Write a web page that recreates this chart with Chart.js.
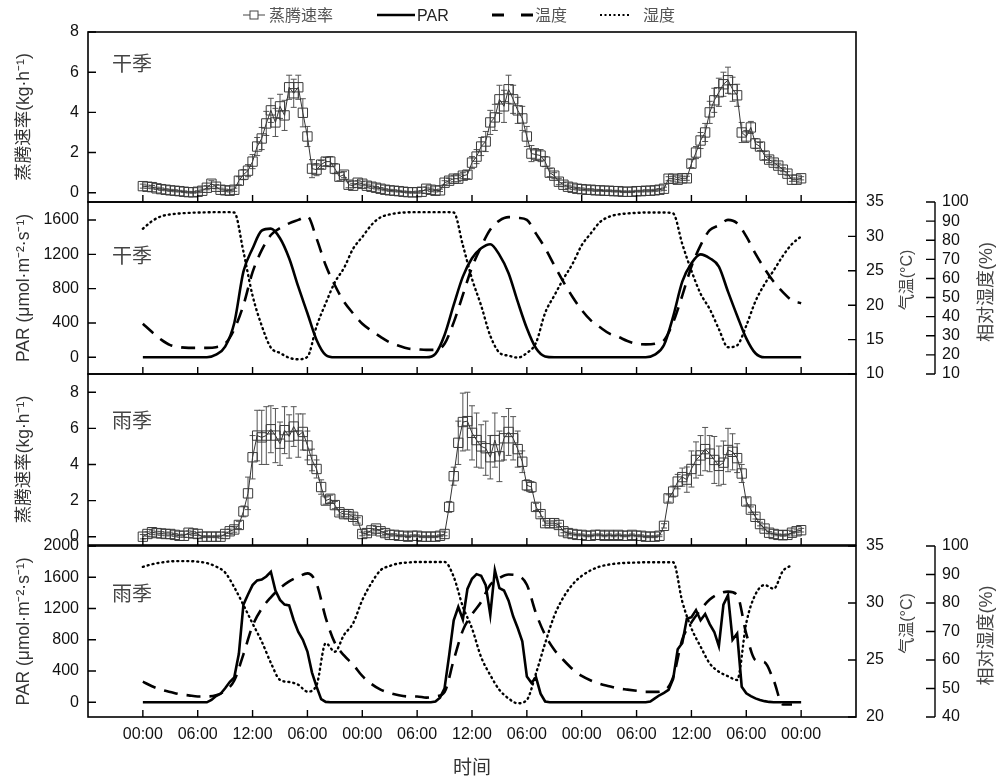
<!DOCTYPE html>
<html>
<head>
<meta charset="utf-8">
<script src="https://cdn.jsdelivr.net/npm/chart.js@4.4.1/dist/chart.umd.min.js"></script>
<style>
    body { margin: 0; background: #fff; }
    #wrap { position: relative; width: 996px; height: 781px; }
    #wrap canvas { position: absolute; left: 0; top: 0; }
    #legend { position: absolute; left: 0; top: 0; }
</style>
</head>
<body>
<div id="wrap">
    <canvas id="p1" width="996" height="781"></canvas>
    <canvas id="p2" width="996" height="781"></canvas>
    <canvas id="p3" width="996" height="781"></canvas>
    <canvas id="p4" width="996" height="781"></canvas>
    <svg id="legend" width="996" height="32">
        <line x1="243" y1="15" x2="265" y2="15" stroke="#444" stroke-width="1"/>
        <rect x="250" y="11" width="8" height="8" fill="#fff" stroke="#444" stroke-width="1"/>
        <text x="269" y="21" font-family="Noto Sans CJK SC" font-size="16" fill="#555">蒸腾速率</text>
        <line x1="377" y1="15" x2="415" y2="15" stroke="#000" stroke-width="2.5"/>
        <text x="417" y="21" font-family="Liberation Sans" font-size="16" fill="#222">PAR</text>
        <line x1="492" y1="15" x2="533" y2="15" stroke="#000" stroke-width="3" stroke-dasharray="12 17"/>
        <text x="535" y="21" font-family="Noto Sans CJK SC" font-size="16" fill="#555">温度</text>
        <line x1="600" y1="15" x2="629" y2="15" stroke="#000" stroke-width="2" stroke-dasharray="2 2.5"/>
        <text x="643" y="21" font-family="Noto Sans CJK SC" font-size="16" fill="#555">湿度</text>
    </svg>
</div>
<script>
// time axis (hours from the first midnight)
var xTickValues = [0, 6, 12, 18, 24, 30, 36, 42, 48, 54, 60, 66, 72];
var xTickLabels = ["00:00", "06:00", "12:00", "06:00", "00:00", "06:00", "12:00",
    "06:00", "00:00", "06:00", "12:00", "06:00", "00:00"];

var hoursHalf = [];
for (var i = 0; i <= 144; i++) hoursHalf.push(i / 2);
var hoursFull = [];
for (var i = 0; i <= 72; i++) hoursFull.push(i);

// 干季 蒸腾速率 (half-hourly) and error
var dryET = [0.33, 0.3, 0.28, 0.22, 0.18, 0.15, 0.12, 0.1, 0.08, 0.05, 0.03, 0.02, 0.05, 0.1, 0.25, 0.45, 0.3, 0.15, 0.12, 0.1,
    0.15, 0.6, 0.9, 1.1, 1.55, 2.3, 2.7, 3.45, 4.1, 3.5, 4.3, 3.85, 5.25, 4.95, 5.25, 3.98, 2.8, 1.2, 1.15, 1.4, 1.55, 1.55, 1.2, 0.8, 0.9, 0.4, 0.35, 0.5,
    0.45, 0.35, 0.3, 0.25, 0.2, 0.15, 0.12, 0.1, 0.08, 0.05, 0.03, 0.02, 0.03, 0.05, 0.2, 0.15, 0.1, 0.12,
    0.5, 0.6, 0.7, 0.7, 0.85, 0.9, 1.5, 1.8, 2.3, 2.55, 3.5, 3.75, 4.65, 4.3, 5.15, 4.65, 4.1, 3.7, 2.8, 1.95, 1.9, 1.85, 1.55, 1.0, 0.85, 0.55, 0.4, 0.3, 0.25, 0.2,
    0.18, 0.15, 0.15, 0.12, 0.12, 0.1, 0.1, 0.08, 0.08, 0.05, 0.05, 0.05, 0.08, 0.08, 0.1, 0.1, 0.12, 0.15, 0.2,
    0.7, 0.7, 0.65, 0.72, 0.72, 1.45, 2.0, 2.6, 3.0, 4.0, 4.6, 5.0, 5.4, 5.6, 5.15, 4.85, 3.0, 2.8, 3.25, 2.45, 2.3, 1.85, 1.65, 1.5, 1.35, 1.15, 0.95, 0.65, 0.65, 0.72];
var dryErr = [0.1, 0.08, 0.08, 0.06, 0.06, 0.05, 0.05, 0.05, 0.04, 0.04, 0.04, 0.04, 0.05, 0.08, 0.1, 0.15, 0.1, 0.08, 0.06, 0.06,
    0.08, 0.2, 0.25, 0.3, 0.35, 0.45, 0.55, 0.6, 0.6, 0.7, 0.6, 0.75, 0.6, 0.7, 0.6, 0.7, 0.5, 0.45, 0.3, 0.2, 0.2, 0.25, 0.25, 0.2, 0.15, 0.15, 0.1, 0.1,
    0.1, 0.08, 0.08, 0.06, 0.06, 0.05, 0.05, 0.05, 0.04, 0.04, 0.04, 0.04, 0.05, 0.06, 0.08, 0.08, 0.06, 0.06,
    0.1, 0.12, 0.15, 0.15, 0.15, 0.2, 0.3, 0.35, 0.45, 0.5, 0.6, 0.65, 0.7, 0.8, 0.7, 0.7, 0.65, 0.6, 0.5, 0.4, 0.3, 0.3, 0.25, 0.2, 0.15, 0.15, 0.1, 0.08, 0.08, 0.06,
    0.06, 0.05, 0.05, 0.05, 0.04, 0.04, 0.04, 0.04, 0.04, 0.04, 0.04, 0.04, 0.04, 0.04, 0.05, 0.05, 0.05, 0.06, 0.08,
    0.1, 0.12, 0.12, 0.1, 0.1, 0.2, 0.3, 0.4, 0.45, 0.55, 0.6, 0.7, 0.6, 0.65, 0.6, 0.55, 0.5, 0.3, 0.3, 0.25, 0.2, 0.2, 0.15, 0.12, 0.12, 0.1, 0.1, 0.08, 0.08, 0.08];

// 干季 PAR, 温度, 湿度 (hourly)
var dryPAR = [0, 0, 0, 0, 0, 0, 0, 0,
    30, 124, 400, 998, 1267, 1476, 1500, 1388, 1154, 823, 513, 202, 27,
    0, 0, 0, 0, 0, 0, 0, 0, 0, 0, 0,
    40, 260, 610, 940, 1154, 1270, 1318, 1193, 980, 648, 338, 105, 10,
    0, 0, 0, 0, 0, 0, 0, 0, 0, 0, 0,
    30, 143, 474, 881, 1096, 1200, 1154, 1057, 765, 484, 221, 47,
    0, 0, 0, 0, 0];
var dryTemp = [17.3, 16.1, 15.0, 14.2, 13.9, 13.8, 13.8, 13.8, 13.9, 14.4,
    16.5, 20.0, 24.8, 28.0, 30.2, 31.2, 31.9, 32.4, 32.9, 29.7,
    25.8, 22.9, 20.5, 18.8, 17.3, 16.3, 15.4, 14.6, 14.1, 13.7,
    13.6, 13.5, 13.5, 14.4, 17.5, 21.5, 25.5, 28.5, 31.0, 32.3,
    32.8, 32.7, 32.4, 30.4, 28.3, 25.8, 23.4, 21.2, 19.3, 17.8,
    16.8, 15.9, 15.4, 14.8, 14.4, 14.3, 14.4, 14.9, 17.5, 21.4,
    25.6, 28.7, 30.9, 31.6, 32.4, 31.9, 30.0, 27.5, 25.3, 23.4,
    21.9, 20.7, 20.3];
var dryRH = [86, 90, 92.5, 93.5, 94, 94.3, 94.5, 94.6, 94.7, 94.7,
    94.5, 74, 51, 35.3, 23.8, 21, 18.5, 17.7, 19, 35,
    47, 58, 65.5, 75.6, 81.7, 88, 92, 93.5, 94.3, 94.6,
    94.7, 94.7, 94.7, 94.7, 94.5, 77.4, 59.8, 45.8, 30, 21.2,
    19.6, 18.6, 21, 26.3, 42, 51, 59.8, 67.7, 77.4, 83.6,
    89.5, 92.3, 93.5, 94, 94.3, 94.5, 94.5, 94.5, 94, 78,
    64, 52, 44, 33.5, 24, 25, 35.3, 48, 57, 64.2,
    71.8, 78, 82];

// 雨季 蒸腾速率 (half-hourly) and error
var wetET = [0.0, 0.15, 0.25, 0.2, 0.18, 0.15, 0.15, 0.1, 0.05, 0.05, 0.22, 0.18, 0.15, 0.0, 0.0, 0.0, 0.0, 0.0,
    0.15, 0.3, 0.4, 0.65, 1.4, 2.4, 4.4, 5.6, 5.5, 5.6, 5.95, 5.6, 5.15, 5.9, 5.55, 6.1, 5.6, 5.8, 5.05, 4.25, 3.75, 2.75, 2.0, 2.1, 1.75, 1.35, 1.25, 1.25, 1.1, 0.9,
    0.15, 0.2, 0.35, 0.45, 0.3, 0.2, 0.1, 0.1, 0.05, 0.05, 0.0, 0.05, 0.05, 0.0, 0.0, 0.0, 0.0, 0.05,
    0.15, 1.65, 3.35, 5.2, 6.35, 6.4, 5.75, 5.35, 5.0, 4.9, 4.4, 5.35, 4.45, 5.45, 5.8, 5.45, 4.85, 4.15, 2.85, 2.75, 1.65, 1.25, 0.75, 0.75, 0.75, 0.65, 0.3, 0.2,
    0.15, 0.1, 0.1, 0.05, 0.05, 0.1, 0.1, 0.05, 0.1, 0.05, 0.1, 0.05, 0.05, 0.1, 0.05, 0.05, 0.0, 0.0, 0.0, 0.05,
    0.6, 2.12, 2.5, 3.05, 3.3, 3.16, 3.75, 4.25, 4.5, 4.85, 4.6, 4.25, 3.92, 4.1, 4.8, 4.7, 4.35, 3.5, 1.95, 1.5, 1.1, 0.7, 0.45, 0.22, 0.15, 0.1, 0.08, 0.1, 0.22, 0.3, 0.36];
var wetErr = [0.12, 0.12, 0.12, 0.1, 0.1, 0.1, 0.1, 0.08, 0.08, 0.08, 0.1, 0.1, 0.08, 0.05, 0.05, 0.05, 0.05, 0.08,
    0.1, 0.12, 0.15, 0.2, 0.3, 0.9, 1.2, 1.4, 1.5, 1.6, 1.3, 1.5, 1.2, 1.3, 1.2, 1.1, 1.2, 1.0, 0.8, 0.6, 0.5, 0.4, 0.2, 0.2, 0.2, 0.15, 0.15, 0.15, 0.15, 0.15,
    0.1, 0.1, 0.1, 0.12, 0.1, 0.08, 0.06, 0.06, 0.05, 0.05, 0.05, 0.05, 0.05, 0.05, 0.05, 0.05, 0.05, 0.05,
    0.1, 0.3, 0.5, 1.2, 1.6, 1.6, 1.5, 1.5, 1.2, 1.5, 1.2, 1.5, 1.4, 1.2, 1.3, 1.2, 1.0, 0.6, 0.3, 0.3, 0.2, 0.15, 0.12, 0.12, 0.12, 0.1, 0.08, 0.06,
    0.06, 0.05, 0.05, 0.05, 0.05, 0.05, 0.05, 0.05, 0.05, 0.05, 0.05, 0.05, 0.05, 0.05, 0.05, 0.05, 0.05, 0.05, 0.05, 0.05,
    0.12, 0.2, 0.3, 0.4, 0.5, 0.7, 1.0, 1.0, 1.1, 1.2, 1.0, 1.3, 1.1, 1.2, 1.2, 1.0, 0.8, 0.5, 0.2, 0.15, 0.12, 0.1, 0.08, 0.06, 0.05, 0.05, 0.05, 0.05, 0.06, 0.08, 0.1];

// 雨季 PAR (half-hourly), 温度, 湿度 (hourly)
var wetPAR = [0, 0, 0, 0, 0, 0, 0, 0, 0, 0, 0, 0, 0, 0, 0,
    30, 80, 110, 180, 260, 320, 620, 1250, 1380, 1500, 1560, 1570, 1610, 1670, 1430, 1310, 1250, 1240, 1050, 900, 800, 650, 380, 200, 40, 5,
    0, 0, 0, 0, 0, 0, 0, 0, 0, 0, 0, 0, 0, 0, 0, 0, 0, 0, 0, 0, 0, 0, 0,
    10, 60, 180, 600, 1050, 1220, 1060, 1450, 1580, 1640, 1620, 1500, 1120, 1690, 1460, 1430, 1300, 1100, 950, 780, 330, 250, 320, 110, 10,
    0, 0, 0, 0, 0, 0, 0, 0, 0, 0, 0, 0, 0, 0, 0, 0, 0, 0, 0, 0, 0,
    0, 10, 50, 90, 120, 160, 300, 680, 760, 1070, 1090, 1180, 1050, 1130, 1000, 900, 720, 1250, 1370, 800, 880, 200, 115, 80, 50, 30, 15, 5, 0, 0, 0, 0, 0, 0, 0];
var wetTemp = [23.1, 22.7, 22.4, 22.2, 22.0, 21.9, 21.8, 21.8, 21.9, 22.3,
    23.2, 25.5, 28.0, 29.5, 30.5, 31.3, 31.9, 32.3, 32.6, 31.7,
    28.7, 26.5, 25.4, 24.6, 23.6, 22.9, 22.4, 22.1, 21.9, 21.8,
    21.8, 21.7, 21.8, 22.2, 25.0, 27.6, 29.0, 30.1, 31.6, 32.2,
    32.5, 32.4, 31.6, 29.1, 27.2, 25.9, 25.0, 24.2, 23.6, 23.2,
    22.9, 22.7, 22.5, 22.4, 22.3, 22.2, 22.2, 22.3, 23.5, 26.8,
    28.3, 29.4, 30.3, 30.8, 31.0, 30.7, 27.3, 25.0, 24.8, 23.2,
    21.1, 21.1, null];
var wetRH = [92.7, 93.6, 94.2, 94.6, 94.7, 94.7, 94.5, 94, 92.8, 90.7,
    85.5, 79.3, 72.8, 66.5, 59, 53, 52.3, 51.3, 48.9, 51.2,
    65.9, 62.9, 68.8, 72.9, 81, 87, 91.5, 93, 93.9, 94.2,
    94.4, 94.4, 94.4, 94.4, 89.2, 78.7, 71.1, 61, 54.7, 49.5,
    46.5, 44.8, 46, 55.3, 65.9, 75.5, 82, 86.5, 89.5, 91.5,
    92.8, 93.5, 93.9, 94.1, 94.2, 94.3, 94.3, 94.3, 94.3, 80.5,
    71.1, 64.7, 58.8, 55.9, 54.3, 53, 73, 83, 86.3, 85,
    91.2, 93.3, null];

var latin = "'Liberation Sans', Arial, sans-serif";
var cjk = "'Noto Sans CJK SC', sans-serif";
var mixed = "'Liberation Sans', 'Noto Sans CJK SC', sans-serif";
var tickFont = { family: latin, size: 16 };

function pairs(xs, ys) {
    return xs.map(function (x, i) {
        return { x: x, y: ys[i] };
    });
}

function fixedTicks(values) {
    return function (scale) {
        scale.ticks = values.map(function (v) {
            return { value: v };
        });
    };
}

function plain(v) {
    return String(v);
}

function xScale(show) {
    return {
        type: "linear",
        min: -6,
        max: 78,
        display: show,
        grid: { display: false, drawTicks: false },
        border: { display: false },
        afterBuildTicks: fixedTicks(xTickValues),
        ticks: {
            autoSkip: false,
            maxRotation: 0,
            padding: 8,
            color: "#111",
            font: tickFont,
            callback: function (v, i) {
                return xTickLabels[i];
            },
        },
        title: {
            display: show,
            text: "时间",
            color: "#333",
            font: { family: cjk, size: 19 },
            padding: { top: 0, bottom: 3 },
        },
        afterFit: function (s) {
            if (show) s.height = 64;
        },
    };
}

function leftY(min, max, ticks, title) {
    return {
        type: "linear",
        position: "left",
        min: min,
        max: max,
        grid: { display: false, drawTicks: false },
        border: { display: false },
        afterBuildTicks: fixedTicks(ticks),
        ticks: { autoSkip: false, padding: 9, color: "#111", font: tickFont, callback: plain },
        title: {
            display: true,
            text: title,
            color: "#333",
            font: { family: mixed, size: 17.5 },
            padding: { top: 14, bottom: 0 },
        },
        afterFit: function (s) {
            s.width = 88;
        },
    };
}

function rightY(min, max, ticks, width, pad) {
    return {
        type: "linear",
        position: "right",
        min: min,
        max: max,
        grid: { display: false, drawTicks: false },
        border: { display: false },
        afterBuildTicks: fixedTicks(ticks),
        ticks: { autoSkip: false, padding: pad, color: "#111", font: tickFont, callback: plain },
        afterFit: function (s) {
            s.width = width;
        },
    };
}

// frame, inner ticks, error bars, season label, right titles
var panelDeco = {
    id: "panelDeco",
    beforeDatasetsDraw: function (chart) {
        var ctx = chart.ctx;
        var ys = chart.scales.y;
        chart.data.datasets.forEach(function (ds, i) {
            if (!ds.errorBars) return;
            var meta = chart.getDatasetMeta(i);
            ctx.save();
            ctx.strokeStyle = "#555";
            ctx.lineWidth = 1;
            ctx.beginPath();
            meta.data.forEach(function (pt, j) {
                var v = ds.data[j].y;
                var e = ds.errorBars[j];
                var top = ys.getPixelForValue(v + e);
                var bot = ys.getPixelForValue(v - e);
                ctx.moveTo(pt.x, top);
                ctx.lineTo(pt.x, bot);
                ctx.moveTo(pt.x - 3, top);
                ctx.lineTo(pt.x + 3, top);
                ctx.moveTo(pt.x - 3, bot);
                ctx.lineTo(pt.x + 3, bot);
            });
            ctx.stroke();
            ctx.restore();
        });
    },
    afterDraw: function (chart, args, opts) {
        var ctx = chart.ctx;
        var a = chart.chartArea;
        ctx.save();
        ctx.strokeStyle = "#000";
        ctx.lineWidth = 1.6;
        ctx.strokeRect(a.left, a.top, a.right - a.left, a.bottom - a.top);

        ctx.lineWidth = 1.4;
        ctx.beginPath();
        var xs = chart.scales.x;
        xTickValues.forEach(function (v) {
            var px = xs.getPixelForValue(v);
            ctx.moveTo(px, a.bottom);
            ctx.lineTo(px, a.bottom - 7);
        });
        var ys = chart.scales.y;
        ys.ticks.forEach(function (t) {
            var py = ys.getPixelForValue(t.value);
            ctx.moveTo(a.left, py);
            ctx.lineTo(a.left + 8, py);
        });
        if (chart.scales.yT) {
            var st = chart.scales.yT;
            st.ticks.forEach(function (t) {
                var py = st.getPixelForValue(t.value);
                ctx.moveTo(a.right, py);
                ctx.lineTo(a.right - 8, py);
            });
        }
        if (chart.scales.yH) {
            var sh = chart.scales.yH;
            var bx = sh.left;
            ctx.moveTo(bx, a.top);
            ctx.lineTo(bx, a.bottom);
            sh.ticks.forEach(function (t) {
                var py = sh.getPixelForValue(t.value);
                ctx.moveTo(bx, py);
                ctx.lineTo(bx - 9, py);
            });
        }
        ctx.stroke();

        ctx.fillStyle = "#444";
        ctx.font = "20px " + cjk;
        ctx.textBaseline = "middle";
        ctx.textAlign = "left";
        ctx.fillText(opts.label, a.left + 24, a.top + opts.labelDy);

        var mid = (a.top + a.bottom) / 2;
        if (opts.tTitle) {
            ctx.save();
            ctx.translate(chart.scales.yT.left + 52, mid - 8);
            ctx.rotate(-Math.PI / 2);
            ctx.textAlign = "center";
            ctx.font = "16px " + mixed;
            ctx.fillText(opts.tTitle, 0, 0);
            ctx.restore();
        }
        if (opts.hTitle) {
            ctx.save();
            ctx.translate(chart.scales.yH.left + 52, mid + 4);
            ctx.rotate(-Math.PI / 2);
            ctx.textAlign = "center";
            ctx.font = "18px " + mixed;
            ctx.fillText(opts.hTitle, 0, 0);
            ctx.restore();
        }
        ctx.restore();
    },
};

function etDataset(values, errors) {
    return {
        data: pairs(hoursHalf, values),
        errorBars: errors,
        borderColor: "#333",
        borderWidth: 1,
        pointStyle: "rect",
        pointRadius: 6.6,
        pointBorderColor: "#3a3a3a",
        pointBorderWidth: 1,
        pointBackgroundColor: "rgba(255,255,255,0)",
        tension: 0,
    };
}

function lineDatasets(hoursPar, par, temp, rh, smoothPar) {
    return [
        {
            label: "PAR",
            data: pairs(hoursPar, par),
            yAxisID: "y",
            borderColor: "#000",
            borderWidth: 2.6,
            pointRadius: 0,
            cubicInterpolationMode: smoothPar ? "monotone" : "default",
            tension: 0,
        },
        {
            label: "温度",
            data: pairs(hoursFull, temp),
            yAxisID: "yT",
            borderColor: "#000",
            borderWidth: 2.6,
            borderDash: [14, 9],
            pointRadius: 0,
            cubicInterpolationMode: "monotone",
        },
        {
            label: "湿度",
            data: pairs(hoursFull, rh),
            yAxisID: "yH",
            borderColor: "#000",
            borderWidth: 2.4,
            borderDash: [1, 4],
            borderCapStyle: "round",
            pointRadius: 0,
            cubicInterpolationMode: "monotone",
        },
    ];
}

var common = {
    responsive: false,
    animation: false,
    events: [],
};

new Chart(document.getElementById("p1"), {
    type: "line",
    data: { datasets: [etDataset(dryET, dryErr)] },
    options: Object.assign({}, common, {
        layout: { padding: { top: 32, bottom: 579, left: 0, right: 140 } },
        plugins: {
            legend: { display: false },
            tooltip: { enabled: false },
            panelDeco: { label: "干季", labelDy: 31 },
        },
        scales: {
            x: xScale(false),
            y: leftY(-0.46, 8, [0, 2, 4, 6, 8], "蒸腾速率(kg·h⁻¹)"),
        },
    }),
    plugins: [panelDeco],
});

new Chart(document.getElementById("p2"), {
    type: "line",
    data: { datasets: lineDatasets(hoursFull, dryPAR, dryTemp, dryRH, true) },
    options: Object.assign({}, common, {
        layout: { padding: { top: 202, bottom: 407, left: 0, right: 0 } },
        plugins: {
            legend: { display: false },
            tooltip: { enabled: false },
            panelDeco: { label: "干季", labelDy: 53, tTitle: "气温(°C)", hTitle: "相对湿度(%)" },
        },
        scales: {
            x: xScale(false),
            y: leftY(-195, 1810, [0, 400, 800, 1200, 1600], "PAR (μmol·m⁻²·s⁻¹)"),
            yT: rightY(10, 35, [10, 15, 20, 25, 30, 35], 79, 10),
            yH: rightY(10, 100, [10, 20, 30, 40, 50, 60, 70, 80, 90, 100], 61, 7),
        },
    }),
    plugins: [panelDeco],
});

new Chart(document.getElementById("p3"), {
    type: "line",
    data: { datasets: [etDataset(wetET, wetErr)] },
    options: Object.assign({}, common, {
        layout: { padding: { top: 374, bottom: 236, left: 0, right: 140 } },
        plugins: {
            legend: { display: false },
            tooltip: { enabled: false },
            panelDeco: { label: "雨季", labelDy: 46 },
        },
        scales: {
            x: xScale(false),
            y: leftY(-0.46, 9.01, [0, 2, 4, 6, 8], "蒸腾速率(kg·h⁻¹)"),
        },
    }),
    plugins: [panelDeco],
});

new Chart(document.getElementById("p4"), {
    type: "line",
    data: { datasets: lineDatasets(hoursHalf, wetPAR, wetTemp, wetRH, false) },
    options: Object.assign({}, common, {
        layout: { padding: { top: 546, bottom: 0, left: 0, right: 0 } },
        plugins: {
            legend: { display: false },
            tooltip: { enabled: false },
            panelDeco: { label: "雨季", labelDy: 47, tTitle: "气温(°C)", hTitle: "相对湿度(%)" },
        },
        scales: {
            x: xScale(true),
            y: leftY(-188, 2000, [0, 400, 800, 1200, 1600, 2000], "PAR (μmol·m⁻²·s⁻¹)"),
            yT: rightY(20, 35, [20, 25, 30, 35], 79, 10),
            yH: rightY(40, 100, [40, 50, 60, 70, 80, 90, 100], 61, 7),
        },
    }),
    plugins: [panelDeco],
});
</script>
</body>
</html>
